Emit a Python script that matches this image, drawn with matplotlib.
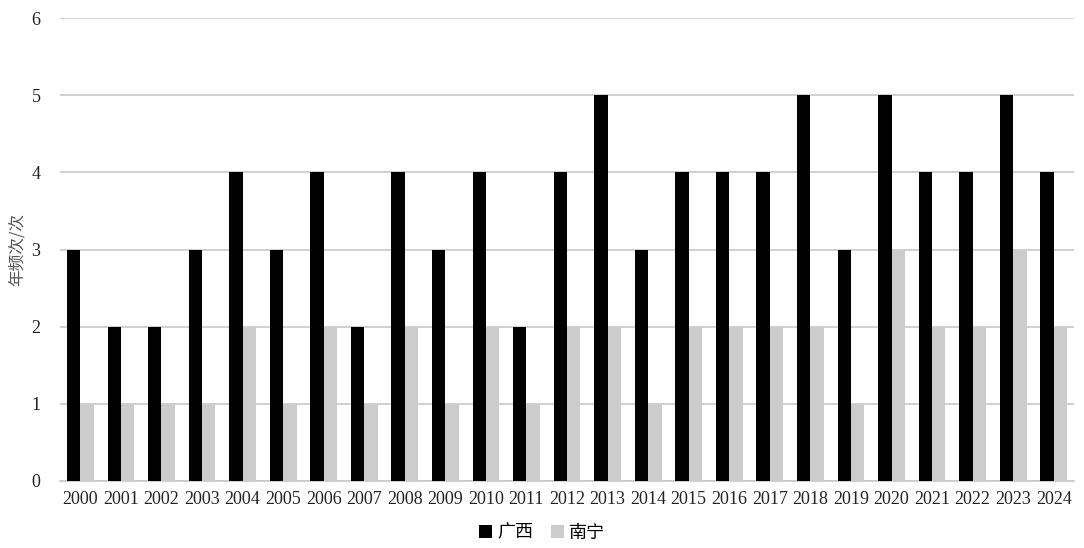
import matplotlib
matplotlib.use("Agg")
import matplotlib.pyplot as plt
import numpy as np

years = [str(y) for y in range(2000, 2025)]
guangxi = [3, 2, 2, 3, 4, 3, 4, 2, 4, 3, 4, 2, 4, 5, 3, 4, 4, 4, 5, 3, 5, 4, 4, 5, 4]
nanning = [1, 1, 1, 1, 2, 1, 2, 1, 2, 1, 2, 1, 2, 2, 1, 2, 2, 2, 2, 1, 3, 2, 2, 3, 2]

plt.rcParams["font.family"] = ["Liberation Serif", "Noto Sans CJK SC", "DejaVu Sans"]

fig = plt.figure(figsize=(10.84, 5.48), dpi=100)
ax = fig.add_axes([0.0554, 0.1223, 0.9354, 0.8447])

x = np.arange(len(years))
w = 0.33
ax.bar(x - w / 2, guangxi, width=w, color="#000000", label="广西", zorder=3)
ax.bar(x + w / 2, nanning, width=w, color="#cccccc", label="南宁", zorder=3)

ax.set_xlim(-0.5, len(years) - 0.5)
ax.set_ylim(0, 6)
ax.set_yticks(range(0, 7))
ax.set_xticks(x)
ax.set_xticklabels(years)
ax.tick_params(axis="both", length=0, labelsize=13, colors="#222222")
ax.tick_params(axis="y", pad=14)
ax.tick_params(axis="x", pad=7)
ax.yaxis.grid(True, color="#c8c8c8", linewidth=1.2, zorder=0)
for s in ["top", "right", "left"]:
    ax.spines[s].set_visible(False)
ax.spines["bottom"].set_color("#c8c8c8")
ax.spines["bottom"].set_linewidth(1.2)

ax.set_ylabel("年频次/次", fontsize=12, color="#555555",
              family=["Noto Sans CJK SC", "DejaVu Sans"], labelpad=4)

fig.legend(loc="lower center", bbox_to_anchor=(0.5, -0.018), ncol=2, frameon=False,
           handlelength=0.7, handleheight=0.7, handletextpad=0.3,
           columnspacing=1.0, prop={"family": ["Noto Sans CJK SC", "DejaVu Sans"], "size": 13})

fig.savefig("out.png", dpi=100)
